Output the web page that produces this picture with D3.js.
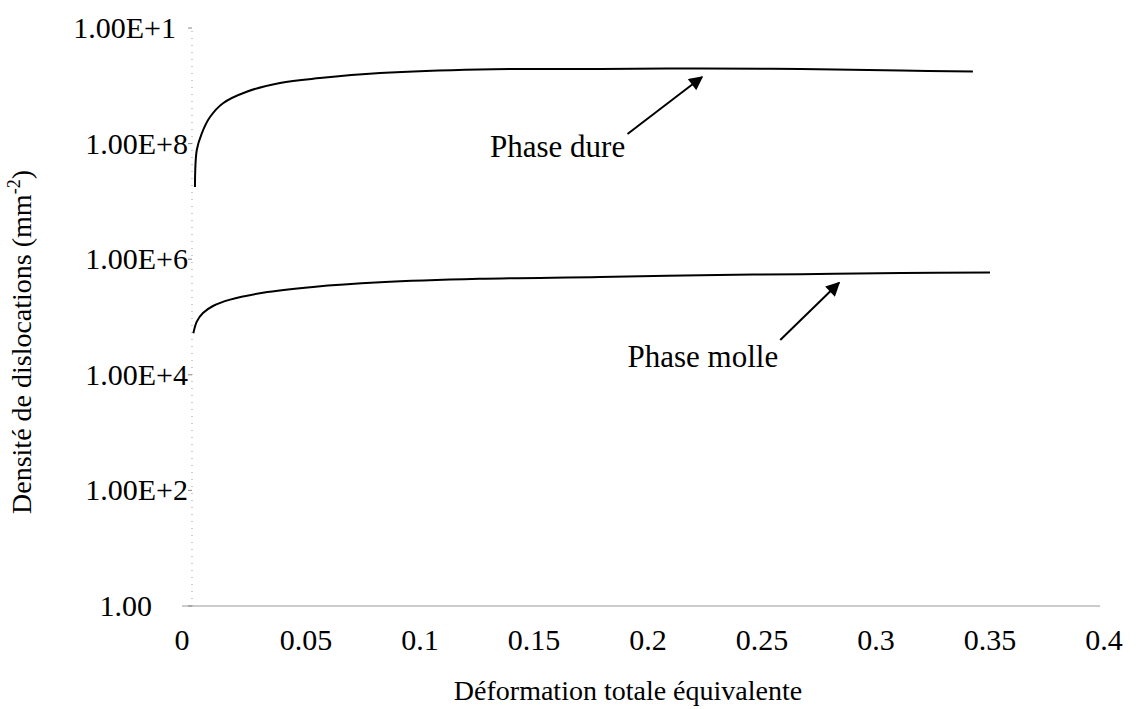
<!DOCTYPE html>
<html><head><meta charset="utf-8">
<script src="https://cdn.jsdelivr.net/npm/d3@7"></script>
<style>body{margin:0;background:#fff}svg{display:block}text{font-family:"Liberation Serif","Times New Roman",serif;fill:#000}</style>
</head><body><svg id="c" width="1137" height="709"></svg>
<script>
// Data
const xTicks = [0, 0.05, 0.1, 0.15, 0.2, 0.25, 0.3, 0.35, 0.4];
const xTickLabels = ["0", "0.05", "0.1", "0.15", "0.2", "0.25", "0.3", "0.35", "0.4"];
const yTicks = [1, 1e2, 1e4, 1e6, 1e8, 1e10];
const yTickLabels = ["1.00", "1.00E+2", "1.00E+4", "1.00E+6", "1.00E+8", "1.00E+1"];

const dureX = [0.0013, 0.0021, 0.0043, 0.0079, 0.0136, 0.024, 0.0386, 0.0561, 0.0825, 0.126, 0.179, 0.223, 0.267, 0.311, 0.3425];
const dureY = [1.78e7, 7.76e7, 1.51e8, 2.88e8, 5.0e8, 7.9e8, 1.12e9, 1.36e9, 1.66e9, 1.92e9, 1.95e9, 2.0e9, 1.95e9, 1.84e9, 1.76e9];
const molleX = [0.0006, 0.0021, 0.0048, 0.0092, 0.0167, 0.0311, 0.0531, 0.0825, 0.126, 0.179, 0.223, 0.267, 0.311, 0.35];
const molleY = [52500, 83200, 117000, 155000, 200000, 263000, 331000, 398000, 457000, 490000, 530000, 550000, 575000, 589000];

const annoLabels = ["Phase dure", "Phase molle"];
const annoTextX = [0.1307, 0.191];
const annoTextY = [5.9e7, 1.36e4];
const arrowFromX = [0.191, 0.258];
const arrowFromY = [1.47e8, 4.0e4];
const arrowToX = [0.2237, 0.2838];
const arrowToY = [1.42e9, 3.9e5];

const xTitle = "Déformation totale équivalente";
const yTitle = "Densité de dislocations (mm";

const svg = d3.select("#c");
const x = d3.scaleLinear().domain([0, 0.4]).range([192, 1104]);
const y = d3.scaleLog().domain([1, 1e10]).range([606, 28]);

svg.append("defs").append("marker").attr("id", "ah")
  .attr("viewBox", "0 0 10 10").attr("refX", 9).attr("refY", 5)
  .attr("markerWidth", 17).attr("markerHeight", 14).attr("markerUnits", "userSpaceOnUse")
  .attr("orient", "auto")
  .append("path").attr("d", "M0,0 L10,5 L0,10 Z").attr("fill", "#000");

// x axis line
svg.append("line").attr("x1", x(0) - 10).attr("x2", x(0.4) - 4)
  .attr("y1", y(1)).attr("y2", y(1)).attr("stroke", "#9a9a9a").attr("stroke-width", 1.2);

// y axis dotted line
svg.append("line").attr("x1", x(0)).attr("x2", x(0)).attr("y1", y(1)).attr("y2", y(1e10))
  .attr("stroke", "#999").attr("stroke-width", 1).attr("stroke-dasharray", "1,6");

// y ticks
const yt = svg.append("g");
yTicks.forEach((v, i) => {
  yt.append("line").attr("x1", x(0) - 4).attr("x2", x(0)).attr("y1", y(v)).attr("y2", y(v))
    .attr("stroke", "#888").attr("stroke-width", 1);
  yt.append("text").attr("x", x(0) - 4 - (i === 0 ? 36 : 0) - (i === 5 ? 12 : 0)).attr("y", y(v) + 10)
    .attr("text-anchor", "end").attr("font-size", 30).text(yTickLabels[i]);
});

// x tick labels
const xt = svg.append("g");
xTicks.forEach((v, i) => {
  xt.append("text").attr("x", x(v) - (i === 0 ? 10 : 0)).attr("y", 650)
    .attr("text-anchor", "middle").attr("font-size", 30).text(xTickLabels[i]);
});

// titles
svg.append("text").attr("x", 628).attr("y", 700).attr("text-anchor", "middle")
  .attr("font-size", 28).text(xTitle);
const yt2 = svg.append("text").attr("transform", "translate(31,342) rotate(-90)")
  .attr("text-anchor", "middle").attr("font-size", 28);
yt2.append("tspan").text(yTitle);
yt2.append("tspan").attr("font-size", 18).attr("dy", -11).text("-2");
yt2.append("tspan").attr("dy", 11).text(")");

// curves
const line = d3.line().x(d => x(d[0])).y(d => y(d[1])).curve(d3.curveCatmullRom.alpha(0.5));
svg.append("path").datum(d3.zip(dureX, dureY)).attr("d", line)
  .attr("fill", "none").attr("stroke", "#000").attr("stroke-width", 2);
svg.append("path").datum(d3.zip(molleX, molleY)).attr("d", line)
  .attr("fill", "none").attr("stroke", "#000").attr("stroke-width", 2);

// annotations
annoLabels.forEach((t, i) => {
  svg.append("text").attr("x", x(annoTextX[i])).attr("y", y(annoTextY[i]))
    .attr("font-size", 31).text(t);
  svg.append("line").attr("x1", x(arrowFromX[i])).attr("y1", y(arrowFromY[i]))
    .attr("x2", x(arrowToX[i])).attr("y2", y(arrowToY[i]))
    .attr("stroke", "#000").attr("stroke-width", 2).attr("marker-end", "url(#ah)");
});
</script></body></html>
